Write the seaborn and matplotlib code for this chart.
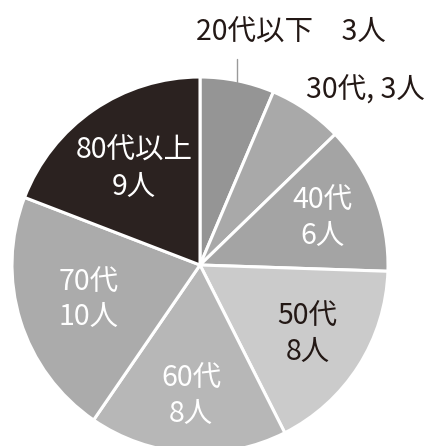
import numpy as np
import matplotlib
matplotlib.use("Agg")
import matplotlib.pyplot as plt
import seaborn as sns

# --- Data ---
ages = ["20代以下", "30代", "40代", "50代", "60代", "70代", "80代以上"]
counts = [3, 3, 6, 8, 8, 10, 9]
colors = ["#959595", "#a9a9a9", "#a4a4a4", "#cbcbcb", "#b7b7b7", "#ababab", "#2b2220"]
text_colors = ["#231815", "#231815", "#ffffff", "#231815", "#ffffff", "#ffffff", "#ffffff"]

# label radius (fraction of pie radius) for inside labels
label_r = [None, None, 0.70, 0.68, 0.70, 0.62, 0.62]

sns.set_theme(style="white")
plt.rcParams['font.family'] = ['Noto Sans CJK JP', 'DejaVu Sans']

fig = plt.figure(figsize=(4.37, 4.46), dpi=100)
W, H = 437, 446
cx, cy, R = 200, 265, 188
ax = fig.add_axes([(cx - R) / W, (H - cy - R) / H, 2 * R / W, 2 * R / H])

wedges, _ = ax.pie(
    counts,
    colors=colors,
    startangle=90,
    counterclock=False,
    wedgeprops=dict(edgecolor="white", linewidth=2.2),
)
ax.set_xlim(-1, 1)
ax.set_ylim(-1, 1)
ax.set_aspect("auto")
ax.axis("off")

fs = 20.5
for i, w in enumerate(wedges):
    mid = np.deg2rad((w.theta1 + w.theta2) / 2)
    if label_r[i] is None:
        continue
    r = label_r[i]
    ax.text(r * np.cos(mid), r * np.sin(mid), f"{ages[i]}\n{counts[i]}人",
            ha="center", va="center", fontsize=fs, color=text_colors[i],
            linespacing=1.25)

# 20代以下: outside with leader line
w = wedges[0]
mid = np.deg2rad((w.theta1 + w.theta2) / 2)
ax.plot([1.0 * np.cos(mid), 1.0 * np.cos(mid)], [0.995 * np.sin(mid), 1.12 * np.sin(mid)],
        color="#9a9a9a", lw=1.0, clip_on=False)
ax.text((291 - cx) / R, (cy - 33) / R, f"{ages[0]}\u3000{counts[0]}人",
        ha="center", va="center", fontsize=fs, color=text_colors[0])

# 30代: outside
ax.text((365 - cx) / R, (cy - 91) / R, f"{ages[1]}, {counts[1]}人",
        ha="center", va="center", fontsize=fs, color=text_colors[1])

plt.savefig("out.png", dpi=100)
plt.close()
